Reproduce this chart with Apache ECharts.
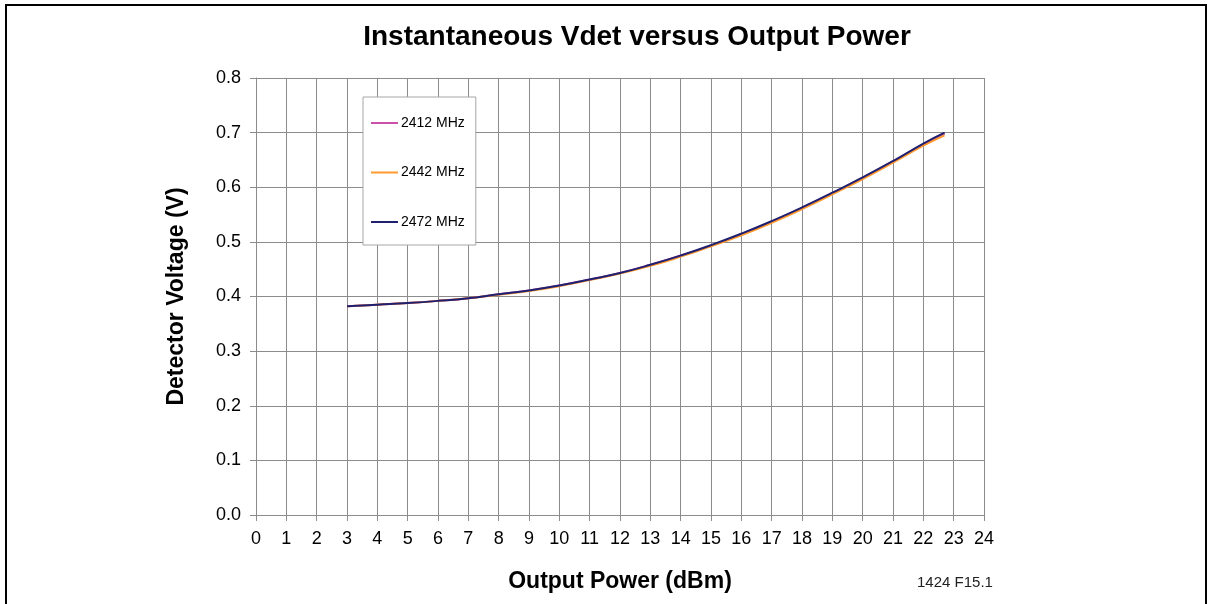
<!DOCTYPE html>
<html>
<head>
<meta charset="utf-8">
<script src="https://cdn.jsdelivr.net/npm/echarts@6/dist/echarts.min.js"></script>
<style>
  html, body { margin: 0; padding: 0; background: #fff; }
  #chart { width: 1212px; height: 604px; }
</style>
</head>
<body>
<div id="chart"></div>
<script>
// output power, dBm
const powerDbm = [3, 4, 5, 6, 7, 8, 9, 10, 11, 12, 13, 14, 15, 16, 17, 18, 19, 20, 21, 22, 22.7];
// detector voltage, V
const v2412 = [0.382, 0.385, 0.388, 0.392, 0.397, 0.404, 0.411, 0.420, 0.431, 0.443, 0.458, 0.475, 0.493, 0.514, 0.537, 0.562, 0.589, 0.617, 0.647, 0.678, 0.698];
const v2442 = [0.382, 0.385, 0.388, 0.392, 0.397, 0.403, 0.410, 0.419, 0.430, 0.442, 0.456, 0.473, 0.492, 0.512, 0.535, 0.560, 0.587, 0.615, 0.645, 0.676, 0.695];
const v2472 = [0.382, 0.385, 0.388, 0.392, 0.397, 0.404, 0.411, 0.420, 0.431, 0.443, 0.458, 0.475, 0.494, 0.515, 0.538, 0.563, 0.590, 0.618, 0.648, 0.680, 0.700];

const seriesNames = ['2412 MHz', '2442 MHz', '2472 MHz'];
const seriesColors = ['#cc4fa8', '#ff9a2e', '#202070'];
const xTicks = [0, 24, 1];
const yTicks = [0, 0.8, 0.1];

function pairs(ys) {
  return powerDbm.map((x, i) => [x, ys[i]]);
}

const chart = echarts.init(document.getElementById('chart'));
const font = 'Liberation Sans, Arial, sans-serif';
const gridGray = '#8c8c8c';

const option = {
  animation: false,
  textStyle: { fontFamily: font },
  title: {
    text: 'Instantaneous Vdet versus Output Power',
    left: 632, top: 18, textAlign: 'center',
    textStyle: { fontSize: 28, fontWeight: 'bold', color: '#000', fontFamily: font }
  },
  graphic: [
    { type: 'rect', shape: { x: 6, y: 5, width: 1200, height: 620 },
      style: { fill: 'none', stroke: '#000', lineWidth: 2 } },
    { type: 'text', left: 917, top: 575,
      style: { text: '1424 F15.1', fontSize: 15, fill: '#222', fontFamily: font } }
  ],
  legend: {
    orient: 'vertical',
    left: 363, top: 97,
    padding: [19, 11, 16, 8],
    itemGap: 35.5,
    itemWidth: 27, itemHeight: 2,
    icon: 'rect',
    backgroundColor: '#fff',
    borderColor: '#a6a6a6', borderWidth: 1,
    textStyle: { fontSize: 14, color: '#000', fontFamily: font, padding: [0, 0, 0, -2] },
    data: seriesNames
  },
  grid: { left: 256, right: 228, top: 78, bottom: 89 },
  xAxis: {
    type: 'value', min: xTicks[0], max: xTicks[1], interval: xTicks[2],
    name: 'Output Power (dBm)', nameLocation: 'middle', nameGap: 55,
    nameTextStyle: { fontSize: 23, fontWeight: 'bold', color: '#000' },
    axisLine: { lineStyle: { color: gridGray } },
    axisTick: { show: true, length: 6, lineStyle: { color: gridGray } },
    axisLabel: { fontSize: 18, color: '#000', margin: 15 },
    splitLine: { show: true, lineStyle: { color: gridGray, width: 1 } }
  },
  yAxis: {
    type: 'value', min: yTicks[0], max: yTicks[1], interval: yTicks[2],
    name: 'Detector Voltage (V)', nameLocation: 'middle', nameGap: 68,
    nameTextStyle: { fontSize: 23, fontWeight: 'bold', color: '#000' },
    axisLine: { show: true, lineStyle: { color: gridGray } },
    axisTick: { show: true, length: 6, lineStyle: { color: gridGray } },
    axisLabel: { fontSize: 18, color: '#000', margin: 15, formatter: v => v.toFixed(1) },
    splitLine: { show: true, lineStyle: { color: gridGray, width: 1 } }
  },
  series: [v2412, v2442, v2472].map((ys, i) => ({
    name: seriesNames[i],
    type: 'line',
    smooth: true,
    showSymbol: false,
    color: seriesColors[i],
    lineStyle: { width: 2, color: seriesColors[i] },
    data: pairs(ys),
    z: 2 + i
  }))
};

chart.setOption(option);
window.addEventListener('resize', function () { chart.resize(); });
</script>
</body>
</html>
